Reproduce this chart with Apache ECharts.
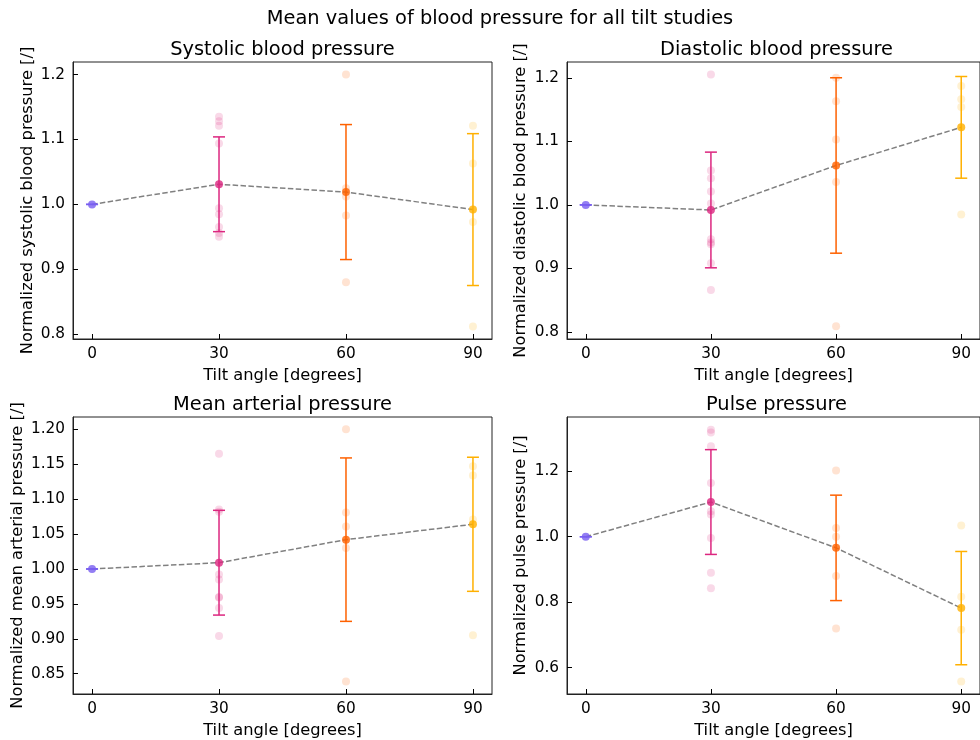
<!DOCTYPE html>
<html>
<head>
<meta charset="utf-8">
<script src="https://cdn.jsdelivr.net/npm/echarts@6/dist/echarts.min.js"></script>
<style>html,body{margin:0;padding:0;background:#fff}#c{width:980px;height:740px}</style>
</head>
<body>
<div id="c"></div>
<script>
// ---- data ----
const angles = [0, 30, 60, 90];
const xTicks = [0, 30, 60, 90];
const pointColors = ['#785EF0', '#DC267F', '#FE6100', '#FFB000'];

const sysMean = [1.000, 1.031, 1.019, 0.992];
const sysStd  = [0.000, 0.073, 0.104, 0.117];
const sysRaw30 = [1.135, 1.128, 1.121, 1.094, 0.994, 0.985, 0.965, 0.956, 0.950];
const sysRaw60 = [1.200, 1.025, 1.012, 0.983, 0.880];
const sysRaw90 = [1.121, 1.063, 0.973, 0.812];
const sysTicks = [0.8, 0.9, 1.0, 1.1, 1.2];

const diaMean = [1.000, 0.992, 1.062, 1.122];
const diaStd  = [0.000, 0.091, 0.138, 0.080];
const diaRaw30 = [1.205, 1.054, 1.042, 1.021, 1.002, 0.946, 0.941, 0.938, 0.908, 0.866];
const diaRaw60 = [1.200, 1.163, 1.103, 1.036, 0.809];
const diaRaw90 = [1.187, 1.166, 1.154, 0.985];
const diaTicks = [0.8, 0.9, 1.0, 1.1, 1.2];

const mapMean = [1.000, 1.009, 1.042, 1.064];
const mapStd  = [0.000, 0.075, 0.117, 0.096];
const mapRaw30 = [1.165, 1.085, 1.082, 0.992, 0.985, 0.960, 0.959, 0.944, 0.904];
const mapRaw60 = [1.200, 1.081, 1.061, 1.030, 0.839];
const mapRaw90 = [1.147, 1.134, 1.071, 0.905];
const mapTicks = [0.85, 0.90, 0.95, 1.00, 1.05, 1.10, 1.15, 1.20];

const ppMean = [1.000, 1.106, 0.966, 0.782];
const ppStd  = [0.000, 0.160, 0.161, 0.173];
const ppRaw30 = [1.327, 1.318, 1.276, 1.164, 1.078, 1.068, 0.996, 0.890, 0.843];
const ppRaw60 = [1.202, 1.027, 1.000, 0.880, 0.720];
const ppRaw90 = [1.034, 0.817, 0.716, 0.558];
const ppTicks = [0.6, 0.8, 1.0, 1.2];

// ---- layout ----
const panels = [
  {title: 'Systolic blood pressure', ylabel: 'Normalized systolic blood pressure [/]',
   mean: sysMean, std: sysStd, raw: [sysRaw30, sysRaw60, sysRaw90], ticks: sysTicks, dec: 1,
   ymin: 0.7926, ymax: 1.2194, left: 73, top: 62, gap: 37},
  {title: 'Diastolic blood pressure', ylabel: 'Normalized diastolic blood pressure [/]',
   mean: diaMean, std: diaStd, raw: [diaRaw30, diaRaw60, diaRaw90], ticks: diaTicks, dec: 1,
   ymin: 0.789, ymax: 1.2248, left: 567, top: 62, gap: 38},
  {title: 'Mean arterial pressure', ylabel: 'Normalized mean arterial pressure [/]',
   mean: mapMean, std: mapStd, raw: [mapRaw30, mapRaw60, mapRaw90], ticks: mapTicks, dec: 2,
   ymin: 0.821, ymax: 1.2176, left: 73, top: 417, gap: 47},
  {title: 'Pulse pressure', ylabel: 'Normalized pulse pressure [/]',
   mean: ppMean, std: ppStd, raw: [ppRaw30, ppRaw60, ppRaw90], ticks: ppTicks, dec: 1,
   ymin: 0.5197, ymax: 1.3657, left: 567, top: 417, gap: 38}
];
const W = 419, H = 277;
const FONT = 'DejaVu Sans';

function rgba(hex, a) {
  const n = parseInt(hex.slice(1), 16);
  return 'rgba(' + ((n >> 16) & 255) + ',' + ((n >> 8) & 255) + ',' + (n & 255) + ',' + a + ')';
}

const option = {
  animation: false,
  backgroundColor: '#fff',
  title: [{
    text: 'Mean values of blood pressure for all tilt studies',
    left: 500, top: 9, textAlign: 'center', padding: 0,
    textStyle: {fontFamily: FONT, fontSize: 19.4, fontWeight: 'normal', color: '#000'}
  }],
  grid: [], xAxis: [], yAxis: [], series: []
};

panels.forEach((p, i) => {
  option.title.push({
    text: p.title, left: p.left + W / 2, top: p.top - 22, textAlign: 'center', padding: 0,
    textStyle: {fontFamily: FONT, fontSize: 19.4, fontWeight: 'normal', color: '#000'}
  });
  option.grid.push({left: p.left, top: p.top, width: W, height: H, show: true,
    borderColor: '#222', borderWidth: 1, backgroundColor: 'transparent'});
  option.xAxis.push({
    type: 'value', gridIndex: i, min: -4.5, max: 94.5,
    name: 'Tilt angle [degrees]', nameLocation: 'middle', nameGap: 29,
    nameTextStyle: {fontFamily: FONT, fontSize: 16.3, color: '#000'},
    axisLine: {show: true, onZero: false, lineStyle: {color: '#222', width: 1}},
    axisTick: {show: true, inside: true, customValues: xTicks, length: 5,
      lineStyle: {color: '#000', width: 1}},
    axisLabel: {customValues: xTicks, margin: 8, fontFamily: FONT, fontSize: 15.3, color: '#000'},
    splitLine: {show: false}
  });
  option.yAxis.push({
    type: 'value', gridIndex: i, min: p.ymin, max: p.ymax,
    name: p.ylabel, nameLocation: 'middle', nameGap: p.gap,
    nameTextStyle: {fontFamily: FONT, fontSize: 16.3, color: '#000'},
    axisLine: {show: true, onZero: false, lineStyle: {color: '#222', width: 1}},
    axisTick: {show: true, inside: true, customValues: p.ticks, length: 5,
      lineStyle: {color: '#000', width: 1}},
    axisLabel: {customValues: p.ticks, margin: 8, fontFamily: FONT, fontSize: 15.3, color: '#000',
      formatter: v => Number(v).toFixed(p.dec)},
    splitLine: {show: false}
  });
  const pts = [];
  p.raw.forEach((arr, k) => {
    arr.forEach(v => pts.push({value: [angles[k + 1], v],
      itemStyle: {color: rgba(pointColors[k + 1], 0.22)}}));
  });
  option.series.push({type: 'scatter', xAxisIndex: i, yAxisIndex: i, data: pts,
    symbolSize: 8, z: 1, silent: true});
  option.series.push({type: 'line', xAxisIndex: i, yAxisIndex: i,
    data: angles.map((a, k) => [a, p.mean[k]]), symbol: 'none', z: 2,
    lineStyle: {color: '#808080', width: 1.5, type: [5.5, 2.4]}});
  option.series.push({type: 'custom', xAxisIndex: i, yAxisIndex: i, z: 3,
    data: angles.map((a, k) => [a, p.mean[k] - p.std[k], p.mean[k] + p.std[k]]),
    renderItem: (params, api) => {
      const lo = api.coord([api.value(0), api.value(1)]);
      const hi = api.coord([api.value(0), api.value(2)]);
      const c = pointColors[params.dataIndex];
      const st = {stroke: c, lineWidth: 1.5};
      return {type: 'group', children: [
        {type: 'line', shape: {x1: lo[0], y1: lo[1], x2: hi[0], y2: hi[1]}, style: st},
        {type: 'line', shape: {x1: lo[0] - 6, y1: lo[1], x2: lo[0] + 6, y2: lo[1]}, style: st},
        {type: 'line', shape: {x1: hi[0] - 6, y1: hi[1], x2: hi[0] + 6, y2: hi[1]}, style: st}
      ]};
    }});
  option.series.push({type: 'scatter', xAxisIndex: i, yAxisIndex: i, z: 4,
    data: angles.map((a, k) => ({value: [a, p.mean[k]], itemStyle: {color: pointColors[k]}})),
    symbolSize: 8});
});

const chart = echarts.init(document.getElementById('c'), null, {renderer: 'canvas'});
chart.setOption(option);
</script>
</body>
</html>
